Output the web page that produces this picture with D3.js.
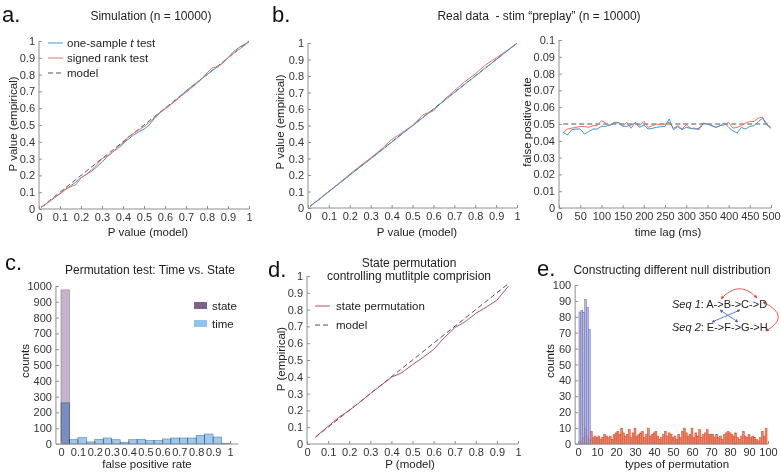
<!DOCTYPE html>
<html><head><meta charset="utf-8">
<script src="https://cdn.jsdelivr.net/npm/d3@7"></script>
<style>body{margin:0;background:#fff}text{white-space:pre}</style>
</head><body>
<script>
// ---------------- DATA ----------------
const unitTicks = [0,0.1,0.2,0.3,0.4,0.5,0.6,0.7,0.8,0.9,1];
// panel a
const aModelX = [0.01,0.025,0.05,0.075,0.1,0.125,0.15,0.175,0.2,0.225,0.25,0.275,0.3,0.325,0.35,0.375,0.4,0.425,0.45,0.475,0.5,0.525,0.55,0.575,0.6,0.625,0.65,0.675,0.7,0.725,0.75,0.775,0.8,0.825,0.85,0.875,0.9,0.925,0.95,0.975,1];
const aTtest = [0.01,0.022,0.045,0.068,0.09,0.115,0.137,0.16,0.186,0.205,0.225,0.25,0.28,0.31,0.338,0.37,0.393,0.415,0.44,0.46,0.475,0.5,0.54,0.57,0.598,0.62,0.645,0.675,0.703,0.728,0.752,0.775,0.8,0.825,0.845,0.87,0.9,0.935,0.96,0.978,0.995];
const aRank  = [0.01,0.022,0.047,0.07,0.092,0.118,0.132,0.145,0.185,0.207,0.232,0.262,0.3,0.315,0.34,0.36,0.385,0.43,0.45,0.47,0.49,0.515,0.545,0.575,0.595,0.62,0.645,0.67,0.695,0.72,0.745,0.775,0.81,0.84,0.845,0.87,0.9,0.925,0.948,0.97,0.995];
// panel b (left)
const bModelX = [0.01,0.05,0.1,0.15,0.2,0.25,0.3,0.35,0.4,0.45,0.5,0.55,0.6,0.65,0.7,0.75,0.8,0.85,0.9,0.95,1];
const bTtest  = [0.01,0.049,0.099,0.149,0.199,0.249,0.298,0.348,0.398,0.449,0.498,0.548,0.598,0.649,0.699,0.749,0.799,0.849,0.899,0.949,0.998];
const bRank   = [0.01,0.05,0.101,0.152,0.205,0.256,0.303,0.355,0.415,0.456,0.5,0.565,0.588,0.655,0.71,0.765,0.812,0.868,0.91,0.952,1.0];
// panel b (right)
const lagMs = [10,20,30,40,50,60,70,80,90,100,110,120,130,140,150,160,170,180,190,200,210,220,230,240,250,260,270,280,290,300,310,320,330,340,350,360,370,380,390,400,410,420,430,440,450,460,470,480,490,500];
const fprTtest = [0.045,0.0435,0.0466,0.047,0.047,0.044,0.0455,0.047,0.047,0.0486,0.0486,0.0494,0.0506,0.0506,0.0486,0.0486,0.0494,0.0506,0.048,0.0494,0.047,0.0474,0.048,0.0484,0.0486,0.053,0.0466,0.0484,0.0466,0.048,0.0474,0.047,0.0474,0.0506,0.05,0.049,0.048,0.049,0.0506,0.048,0.046,0.0446,0.048,0.047,0.0486,0.049,0.0514,0.0534,0.0494,0.0474];
const fprRank  = [0.045,0.047,0.0475,0.048,0.0485,0.0485,0.048,0.049,0.049,0.052,0.0505,0.049,0.051,0.051,0.049,0.051,0.0475,0.051,0.049,0.0515,0.048,0.049,0.05,0.0495,0.05,0.051,0.0475,0.049,0.047,0.0495,0.0475,0.0475,0.0465,0.05,0.05,0.049,0.048,0.049,0.0495,0.051,0.0475,0.048,0.049,0.0505,0.0515,0.0515,0.0535,0.054,0.05,0.048];
const fprModel = 0.05;
// panel c
const binEdges = [0,0.05,0.1,0.15,0.2,0.25,0.3,0.35,0.4,0.45,0.5,0.55,0.6,0.65,0.7,0.75,0.8,0.85,0.9,0.95,1];
const stateCounts = [975,0,0,0,0,0,0,0,0,0,0,0,0,0,0,0,0,0,0,5];
const timeCounts  = [260,27,40,13,30,38,27,10,27,30,21,21,32,38,38,38,55,63,44,0];
const cTicksY = [0,100,200,300,400,500,600,700,800,900,1000];
// panel d
const dModelX = [0.04,0.96];
const dPermX = [0.04,0.05,0.1,0.15,0.2,0.25,0.3,0.35,0.4,0.45,0.5,0.55,0.6,0.65,0.7,0.75,0.8,0.85,0.9,0.955];
const dPermY = [0.04,0.052,0.105,0.158,0.2,0.248,0.3,0.348,0.397,0.425,0.472,0.515,0.563,0.632,0.692,0.728,0.778,0.815,0.856,0.94];
// panel e
const eTicks = [0,10,20,30,40,50,60,70,80,90,100];
const eTimeTypes = [1,2,3,4,5,6];
const eTimeCounts = [83,84,83,91,86,72];
const eStateCounts = [1,2,4,10,5,3,8,4,5,4,5,3,4,6,5,4,5,3,6,7,8,6,10,7,5,6,9,4,7,10,5,6,7,8,4,6,10,5,6,7,8,5,3,4,6,8,5,7,6,4,5,3,6,4,8,10,7,5,6,10,4,7,5,9,4,6,7,9,6,6,6,4,6,4,5,3,6,7,8,7,6,5,7,4,3,5,8,5,4,6,4,5,4,3,2,4,8,5,10];

// ---------------- STYLE ----------------
const BLUE = '#3d96dd', RED = '#f0705c', PURPLE = '#b04a8e', AXIS = '#8f8f8f', TXT = '#333';
const svg = d3.select('body').append('svg').attr('width',781).attr('height',473)
  .style('font-family','"Liberation Sans", Arial, sans-serif');

function axes(x, y, xt, yt, o={}) {
  const xAt = o.xAt !== undefined ? o.xAt : x.domain()[0];
  const yAt = o.yAt !== undefined ? o.yAt : y.domain()[0];
  const fs = o.fs || 11.5;
  const gx = svg.append('g').attr('transform',`translate(0,${y(yAt)})`)
    .call(d3.axisBottom(x).tickValues(xt).tickSizeInner(-3).tickSizeOuter(0).tickPadding(o.xpad||4).tickFormat(d=>String(d)));
  const gy = svg.append('g').attr('transform',`translate(${x(xAt)},0)`)
    .call(d3.axisLeft(y).tickValues(yt).tickSizeInner(-3).tickSizeOuter(0).tickPadding(4).tickFormat(d=>String(d)));
  [gx,gy].forEach(g=>{
    g.select('.domain').remove();
    g.selectAll('line').attr('stroke',AXIS);
    g.selectAll('text').attr('fill',TXT).style('font-size',fs+'px').style('font-family','"Liberation Sans", Arial, sans-serif');
  });
  const xe = o.xEnd !== undefined ? o.xEnd : x.domain()[1];
  const ye = o.yEnd !== undefined ? o.yEnd : y.domain()[1];
  svg.append('line').attr('x1',x(xAt)).attr('x2',x(xe)).attr('y1',y(yAt)).attr('y2',y(yAt)).attr('stroke',AXIS);
  svg.append('line').attr('x1',x(xAt)).attr('x2',x(xAt)).attr('y1',y(yAt)).attr('y2',y(ye)).attr('stroke',AXIS);
}
function text(x,y,s,o={}) {
  const t = svg.append('text').attr('x',x).attr('y',y).text(s).attr('fill',o.fill||'#222')
    .style('font-size',(o.fs||12)+'px').attr('text-anchor',o.anchor||'start');
  if (o.rot) t.attr('transform',`rotate(-90,${x},${y})`);
  return t;
}
function ylabel(x,y,s){ return text(x,y,s,{rot:true,anchor:'middle',fs:11.5}); }
function xlabel(x,y,s){ return text(x,y,s,{anchor:'middle',fs:11.5}); }
function path(data, x, y, color, dash, w) {
  svg.append('path').datum(data).attr('d',d3.line().x(d=>x(d[0])).y(d=>y(d[1])))
    .attr('fill','none').attr('stroke',color).attr('stroke-width',w||1).attr('stroke-dasharray',dash||null);
}
const zip = (a,b)=>a.map((v,i)=>[v,b[i]]);

// ---------------- PANEL A ----------------
{
  const x = d3.scaleLinear().domain([0,1]).range([39,249]);
  const y = d3.scaleLinear().domain([0,1]).range([209,41]);
  axes(x,y,unitTicks,unitTicks,{fs:11});
  path(zip(aModelX,aModelX),x,y,'#555','5,3');
  path(zip(aModelX,aTtest),x,y,BLUE);
  path(zip(aModelX,aRank),x,y,RED);
  text(2,22,'a.',{fs:22,fill:'#111'});
  text(151,20,'Simulation (n = 10000)',{anchor:'middle',fs:12});
  ylabel(17,124,'P value (empirical)');
  xlabel(148,236,'P value (model)');
  // legend
  const lg = [[43,BLUE,null],[58,RED,null],[73,'#555','5,3']];
  lg.forEach(([yy,c,d])=>svg.append('line').attr('x1',48).attr('x2',63).attr('y1',yy).attr('y2',yy).attr('stroke',c).attr('stroke-dasharray',d));
  const t1 = text(67,47,'',{fs:11.5});
  t1.append('tspan').text('one-sample ');
  t1.append('tspan').text('t').style('font-style','italic');
  t1.append('tspan').text(' test');
  text(67,62,'signed rank test',{fs:11.5});
  text(67,77,'model',{fs:11.5});
}
// ---------------- PANEL B left ----------------
{
  const x = d3.scaleLinear().domain([0,1]).range([308,517]);
  const y = d3.scaleLinear().domain([0,1]).range([208,43]);
  axes(x,y,unitTicks,unitTicks,{fs:11});
  path(zip(bModelX,bModelX),x,y,'#555','5,3');
  path(zip(bModelX,bRank),x,y,RED);
  path(zip(bModelX,bTtest),x,y,BLUE);
  text(272,22,'b.',{fs:22,fill:'#111'});
  text(539,20,'Real data  - stim \u201cpreplay\u201d (n = 10000)',{anchor:'middle',fs:12});
  ylabel(284,122,'P value (empirical)');
  xlabel(417,236,'P value (model)');
}
// ---------------- PANEL B right ----------------
{
  const x = d3.scaleLinear().domain([0,500]).range([559,771]);
  const y = d3.scaleLinear().domain([0,0.1]).range([208,40]);
  axes(x,y,[0,50,100,150,200,250,300,350,400,450,500],[0,0.01,0.02,0.03,0.04,0.05,0.06,0.07,0.08,0.09,0.1],{fs:11});
  path([[lagMs[0],fprModel],[lagMs[lagMs.length-1],fprModel]],x,y,'#555','5,3');
  path(zip(lagMs,fprRank),x,y,RED);
  path(zip(lagMs,fprTtest),x,y,BLUE);
  ylabel(531,122,'false positive rate');
  xlabel(668,236,'time lag (ms)');
}
// ---------------- PANEL C ----------------
{
  const x = d3.scaleLinear().domain([0,1]).range([61,230]);
  const y = d3.scaleLinear().domain([0,1000]).range([444,286]);
  const bins = binEdges.slice(0,-1).map((e,i)=>({x0:e,x1:binEdges[i+1],s:stateCounts[i],t:timeCounts[i]}));
  svg.append('g').selectAll('rect').data(bins.filter(b=>b.s>0)).join('rect')
    .attr('x',d=>x(d.x0)).attr('width',d=>x(d.x1)-x(d.x0)).attr('y',d=>y(d.s)).attr('height',d=>y(0)-y(d.s))
    .attr('fill','#c4b4ca').attr('stroke','#8d7d95').attr('stroke-width',0.6).style('mix-blend-mode','multiply');
  svg.append('g').selectAll('rect').data(bins.filter(b=>b.t>0)).join('rect')
    .attr('x',d=>x(d.x0)).attr('width',d=>x(d.x1)-x(d.x0)).attr('y',d=>y(d.t)).attr('height',d=>y(0)-y(d.t))
    .attr('fill','#9dc9ef').attr('stroke','#5b7fa6').attr('stroke-width',0.6).style('mix-blend-mode','multiply');
  axes(x,y,unitTicks,cTicksY,{xAt:-0.03,xEnd:1.05,fs:11});
  text(5,270,'c.',{fs:22,fill:'#111'});
  text(150,274,'Permutation test: Time vs. State',{anchor:'middle',fs:12});
  ylabel(29,361,'counts');
  xlabel(147,468,'false positive rate');
  svg.append('rect').attr('x',194).attr('y',302).attr('width',13).attr('height',7).attr('fill','#7a6588');
  svg.append('rect').attr('x',194).attr('y',320).attr('width',13).attr('height',7).attr('fill','#8fc3ec');
  text(212,310,'state',{fs:11.5});
  text(212,328,'time',{fs:11.5});
}
// ---------------- PANEL D ----------------
{
  const x = d3.scaleLinear().domain([0,1]).range([307,518]);
  const y = d3.scaleLinear().domain([0,1]).range([444,276]);
  axes(x,y,unitTicks,unitTicks,{fs:11});
  path(zip(dModelX,dModelX),x,y,'#555','5,3');
  path(zip(dPermX,dPermY),x,y,PURPLE);
  text(268,277,'d.',{fs:22,fill:'#111'});
  text(409,267,'State permutation',{anchor:'middle',fs:12});
  text(409,280,'controlling mutlitple comprision',{anchor:'middle',fs:12});
  ylabel(285,359,'P (empirical)');
  xlabel(410,468,'P (model)');
  svg.append('line').attr('x1',315).attr('x2',330).attr('y1',306).attr('y2',306).attr('stroke',PURPLE);
  svg.append('line').attr('x1',315).attr('x2',330).attr('y1',325).attr('y2',325).attr('stroke','#555').attr('stroke-dasharray','5,3');
  text(336,310,'state permutation',{fs:11.5});
  text(336,329,'model',{fs:11.5});
}
// ---------------- PANEL E ----------------
{
  const x = d3.scaleLinear().domain([0,100]).range([578,768]);
  const y = d3.scaleLinear().domain([0,100]).range([444,285]);
  const bw = x(1)-x(0);
  const red = eStateCounts.map((v,i)=>({t:i+1,v}));
  svg.append('g').selectAll('rect').data(red).join('rect')
    .attr('x',d=>x(d.t)-bw/2).attr('width',bw).attr('y',d=>y(d.v)).attr('height',d=>y(0)-y(d.v))
    .attr('fill','#f28466').attr('stroke','#cf4a2e').attr('stroke-width',0.5);
  const blue = eTimeTypes.map((t,i)=>({t,v:eTimeCounts[i]}));
  svg.append('g').selectAll('rect').data(blue).join('rect')
    .attr('x',d=>x(d.t)-bw/2).attr('width',bw).attr('y',d=>y(d.v)).attr('height',d=>y(0)-y(d.v))
    .attr('fill','#a6a9da').attr('fill-opacity',0.8).attr('stroke','#6e72b6').attr('stroke-width',0.5);
  axes(x,y,eTicks,eTicks,{xAt:-1.5,fs:11});
  text(537,276,'e.',{fs:22,fill:'#111'});
  text(672,274,'Constructing different null distribution',{anchor:'middle',fs:12});
  ylabel(554,361,'counts');
  xlabel(677,468,'types of permutation');
  // inset diagram
  const defs = svg.append('defs');
  [['ar','#e8332f'],['ab','#3a5fc0']].forEach(([id,c])=>{
    defs.append('marker').attr('id',id).attr('viewBox','0 0 10 10').attr('refX',9).attr('refY',5)
      .attr('markerWidth',4).attr('markerHeight',4).attr('orient','auto-start-reverse')
      .append('path').attr('d','M0,0L10,5L0,10z').attr('fill',c);
  });
  const s1 = text(672,308,'',{fs:11});
  s1.append('tspan').text('Seq 1').style('font-style','italic'); s1.append('tspan').text(': A->B->C->D');
  const s2 = text(672,331,'',{fs:11});
  s2.append('tspan').text('Seq 2').style('font-style','italic'); s2.append('tspan').text(': E->F->G->H');
  const arrows = [['M721,299 Q739,279 757,298','#e8332f','ar'],['M763,302 Q792,316 766,331','#e8332f','ar'],
                  ['M712,322 L740,310','#3a5fc0','ab'],['M720,310 L738,322','#3a5fc0','ab']];
  arrows.forEach(([d,c,m])=>svg.append('path').attr('d',d).attr('fill','none').attr('stroke',c).attr('stroke-width',0.8)
    .attr('marker-start',`url(#${m})`).attr('marker-end',`url(#${m})`));
}
</script>
</body></html>
